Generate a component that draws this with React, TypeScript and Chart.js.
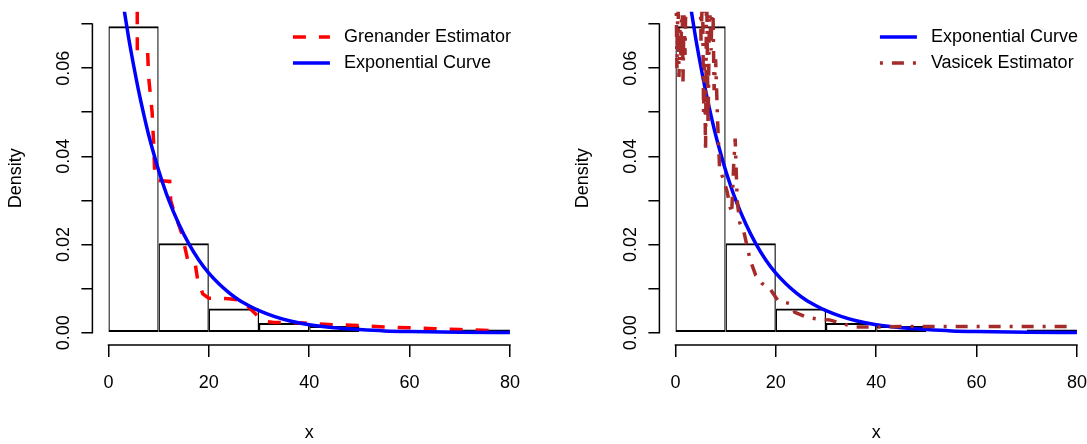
import { useEffect, useRef } from "react";
import { Chart, registerables } from "chart.js";

Chart.register(...registerables);

const FONT = "'Liberation Sans', Arial, Helvetica, sans-serif";

// ---------- data ----------
const binEdges = [0, 10, 20, 30, 40, 50, 60, 70, 80];
const histDensity = [0.0695, 0.0203, 0.0055, 0.0022, 0.0015, 0, 0, 0.0007];

const expX = [0, 1, 2, 3, 4, 5, 6, 7, 8, 9, 10, 12, 14, 16, 18, 20, 22, 24, 26, 28, 30, 33, 36, 40, 45, 50, 55, 60, 70, 80];
const expY = [0.1, 0.0905, 0.0819, 0.0741, 0.067, 0.0607, 0.0549, 0.0497, 0.0449, 0.0407, 0.0368, 0.0301, 0.0247, 0.0202, 0.0165, 0.0135, 0.0111, 0.0091, 0.0074, 0.0061, 0.005, 0.0037, 0.0027, 0.0018, 0.0011, 0.0007, 0.0004, 0.00025, 0.0001, 0.00003];

const grenX = [0, 5.7, 5.75, 7.8, 8.0, 8.7, 9.0, 9.25, 10.0, 12.2, 12.4, 13.0, 14.6, 15.6, 15.9, 17.3, 17.8, 18.8, 20.0, 24.0, 26.6, 28.2, 30.0, 31.5, 33.0, 39.0, 41.0, 45.0, 50.0, 55.0, 60.0, 65.0, 70.0, 76.0, 78.0];
const grenY = [0.09, 0.09, 0.064, 0.064, 0.058, 0.05, 0.043, 0.035, 0.0345, 0.0343, 0.03, 0.0277, 0.0225, 0.0175, 0.0157, 0.0155, 0.0118, 0.0088, 0.0078, 0.0077, 0.0073, 0.0055, 0.0035, 0.0025, 0.0023, 0.0022, 0.002, 0.0018, 0.0016, 0.0013, 0.0011, 0.0009, 0.0007, 0.0005, 0.0005];

const vasX = [0.1, 0.3, 0.5, 0.7, 0.9, 1.1, 1.3, 1.5, 1.7, 1.9, 2.2, 3.5, 4.8, 5.1, 5.4, 5.6, 5.8, 6.0, 6.2, 6.5, 6.8, 7.1, 7.4, 7.7, 8.0, 8.4, 8.8, 9.5, 10.3, 10.8, 11.2, 11.6, 11.9, 12.3, 12.8, 13.6, 14.3, 14.9, 16.0, 17.2, 18.8, 20.4, 22.8, 23.8, 26.1, 28.7, 30.7, 33.1, 35.7, 40.7, 46.0, 53.0, 60.0, 67.0, 75.0, 79.0];
const vasY = [0.08, 0.06, 0.077, 0.058, 0.069, 0.062, 0.08, 0.057, 0.072, 0.063, 0.085, 0.095, 0.086, 0.066, 0.078, 0.05, 0.061, 0.041, 0.08, 0.047, 0.075, 0.064, 0.08, 0.055, 0.062, 0.048, 0.037, 0.035, 0.032, 0.029, 0.027, 0.038, 0.044, 0.03, 0.025, 0.023, 0.0195, 0.0164, 0.013, 0.0112, 0.01, 0.0073, 0.0066, 0.0046, 0.0035, 0.003, 0.0029, 0.0021, 0.0013, 0.0013, 0.0014, 0.0014, 0.0014, 0.0014, 0.0014, 0.0014];

const xTickValues = [0, 20, 40, 60, 80];
const xTickLabels = ["0", "20", "40", "60", "80"];
const yTickValues = [0, 0.01, 0.02, 0.03, 0.04, 0.05, 0.06, 0.07];
const yTickLabels = ["0.00", "", "0.02", "", "0.04", "", "0.06", ""];

const xLimits = [-3.2, 83.2];
const yLimits = [-0.0028, 0.0728];

const leftLegendLabels = ["Grenander Estimator", "Exponential Curve"];
const rightLegendLabels = ["Exponential Curve", "Vasicek Estimator"];

// ---------- helpers ----------
const zip = (xs: number[], ys: number[]) => xs.map((x, i) => ({ x, y: ys[i] }));

const histData = histDensity.map((d, i) => ({ x: (binEdges[i] + binEdges[i + 1]) / 2, y: d }));

const RED = "#FF0000";
const BLUE = "#0000FF";
const BROWN = "#A52A2A";

const histDataset = {
  type: "bar" as const,
  data: histData,
  backgroundColor: "rgba(0,0,0,0)",
  borderColor: "#000",
  borderWidth: { left: 1.2, right: 1.2, top: 2, bottom: 2 },
  borderSkipped: false,
  inflateAmount: 0,
  barPercentage: 1,
  categoryPercentage: 1,
  order: 10,
};

const expDataset = (order: number) => ({
  type: "line" as const,
  data: zip(expX, expY),
  borderColor: BLUE,
  borderWidth: 3.5,
  pointRadius: 0,
  pointHoverRadius: 0,
  fill: false,
  cubicInterpolationMode: "monotone" as const,
  borderJoinStyle: "round" as const,
  clip: 0,
  order,
});

const grenDataset = {
  type: "line" as const,
  data: zip(grenX, grenY),
  borderColor: RED,
  borderWidth: 3.5,
  borderDash: [13, 13],
  pointRadius: 0,
  pointHoverRadius: 0,
  fill: false,
  tension: 0,
  clip: 0,
  order: 2,
};

const vasDataset = {
  type: "line" as const,
  data: zip(vasX, vasY),
  borderColor: BROWN,
  borderWidth: 3.5,
  borderDash: [3, 9, 12, 9],
  pointRadius: 0,
  pointHoverRadius: 0,
  fill: false,
  tension: 0,
  clip: 0,
  order: 1,
};

type LegendItem = { label: string; color: string; dash: number[] };

const rAxesPlugin = {
  id: "rAxes",
  afterDraw(chart: any) {
    const { ctx, chartArea } = chart;
    const xs = chart.scales.x;
    const ys = chart.scales.y;
    ctx.save();
    ctx.strokeStyle = "#000";
    ctx.lineWidth = 1.5;
    ctx.lineCap = "butt";
    ctx.setLineDash([]);
    ctx.beginPath();
    ctx.moveTo(xs.getPixelForValue(xTickValues[0]) - 0.75, chartArea.bottom);
    ctx.lineTo(xs.getPixelForValue(xTickValues[xTickValues.length - 1]) + 0.75, chartArea.bottom);
    ctx.stroke();
    ctx.beginPath();
    ctx.moveTo(chartArea.left, ys.getPixelForValue(yTickValues[0]) + 0.75);
    ctx.lineTo(chartArea.left, ys.getPixelForValue(yTickValues[yTickValues.length - 1]) - 0.75);
    ctx.stroke();
    ctx.restore();
  },
};

function makeLegendPlugin(items: LegendItem[]) {
  return {
    id: "rLegend",
    afterDraw(chart: any) {
      const { ctx, chartArea } = chart;
      ctx.save();
      ctx.font = `18px ${FONT}`;
      const maxW = Math.max(...items.map((it) => ctx.measureText(it.label).width));
      const textX = chartArea.right - 15 - maxW;
      items.forEach((it, i) => {
        const y = chartArea.top + 25.3 + i * 26;
        ctx.beginPath();
        ctx.setLineDash(it.dash);
        ctx.lineDashOffset = 0;
        ctx.strokeStyle = it.color;
        ctx.lineWidth = 3.5;
        ctx.lineCap = "butt";
        ctx.moveTo(textX - 51, y);
        ctx.lineTo(textX - 14, y);
        ctx.stroke();
        ctx.setLineDash([]);
        ctx.fillStyle = "#000";
        ctx.textBaseline = "middle";
        ctx.textAlign = "left";
        ctx.fillText(it.label, textX, y);
      });
      ctx.restore();
    },
  };
}

function makeChart(canvas: HTMLCanvasElement, datasets: any[], legend: LegendItem[]) {
  return new Chart(canvas, {
    type: "bar",
    data: { datasets },
    plugins: [rAxesPlugin, makeLegendPlugin(legend)],
    options: {
      responsive: false,
      animation: false,
      devicePixelRatio: 1,
      events: [],
      layout: { padding: { left: 0, right: 18, top: 11.7, bottom: 0 } },
      plugins: { legend: { display: false }, tooltip: { enabled: false } },
      scales: {
        x: {
          type: "linear",
          min: xLimits[0],
          max: xLimits[1],
          offset: false,
          bounds: "data",
          afterBuildTicks: (s: any) => {
            s.ticks = xTickValues.map((v) => ({ value: v }));
          },
          afterFit: (s: any) => {
            s.height = 99;
          },
          grid: {
            display: true,
            drawOnChartArea: false,
            drawTicks: true,
            tickLength: 12,
            color: "#000",
            lineWidth: 1.5,
            offset: false,
          },
          border: { display: false },
          ticks: {
            autoSkip: false,
            minRotation: 0,
            maxRotation: 0,
            padding: 15,
            color: "#000",
            font: { size: 18, family: FONT },
            callback: (_v: any, i: number) => xTickLabels[i],
          },
          title: {
            display: true,
            text: "x",
            color: "#000",
            font: { size: 18, family: FONT },
            padding: { top: 0, bottom: 0 },
          },
        },
        y: {
          type: "linear",
          min: yLimits[0],
          max: yLimits[1],
          bounds: "data",
          afterBuildTicks: (s: any) => {
            s.ticks = yTickValues.map((v) => ({ value: v }));
          },
          afterFit: (s: any) => {
            s.width = 92.4;
          },
          grid: {
            display: true,
            drawOnChartArea: false,
            drawTicks: true,
            tickLength: 11,
            color: "#000",
            lineWidth: 1.5,
          },
          border: { display: false },
          ticks: {
            autoSkip: false,
            minRotation: 90,
            maxRotation: 90,
            crossAlign: "center",
            padding: 0,
            color: "#000",
            font: { size: 18, family: FONT },
            callback: (_v: any, i: number) => yTickLabels[i],
          },
          title: {
            display: true,
            text: "Density",
            color: "#000",
            font: { size: 18, family: FONT },
            padding: { top: 5, bottom: 0 },
          },
        },
      },
    } as any,
  });
}

export default function App() {
  const leftRef = useRef<HTMLCanvasElement>(null);
  const rightRef = useRef<HTMLCanvasElement>(null);

  useEffect(() => {
    const left = makeChart(
      leftRef.current!,
      [histDataset, grenDataset, expDataset(1)],
      [
        { label: leftLegendLabels[0], color: RED, dash: [13, 13] },
        { label: leftLegendLabels[1], color: BLUE, dash: [] },
      ]
    );
    const right = makeChart(
      rightRef.current!,
      [histDataset, expDataset(2), vasDataset],
      [
        { label: rightLegendLabels[0], color: BLUE, dash: [] },
        { label: rightLegendLabels[1], color: BROWN, dash: [3, 9, 12, 9] },
      ]
    );
    return () => {
      left.destroy();
      right.destroy();
    };
  }, []);

  return (
    <div
      style={{
        position: "fixed",
        left: 0,
        top: 0,
        width: 1087,
        height: 444,
        overflow: "hidden",
        background: "#fff",
      }}
    >
      <canvas
        ref={leftRef}
        width={544}
        height={444}
        style={{ position: "absolute", left: 0, top: 0, width: 544, height: 444 }}
      />
      <canvas
        ref={rightRef}
        width={544}
        height={444}
        style={{ position: "absolute", left: 567, top: 0, width: 544, height: 444 }}
      />
    </div>
  );
}
